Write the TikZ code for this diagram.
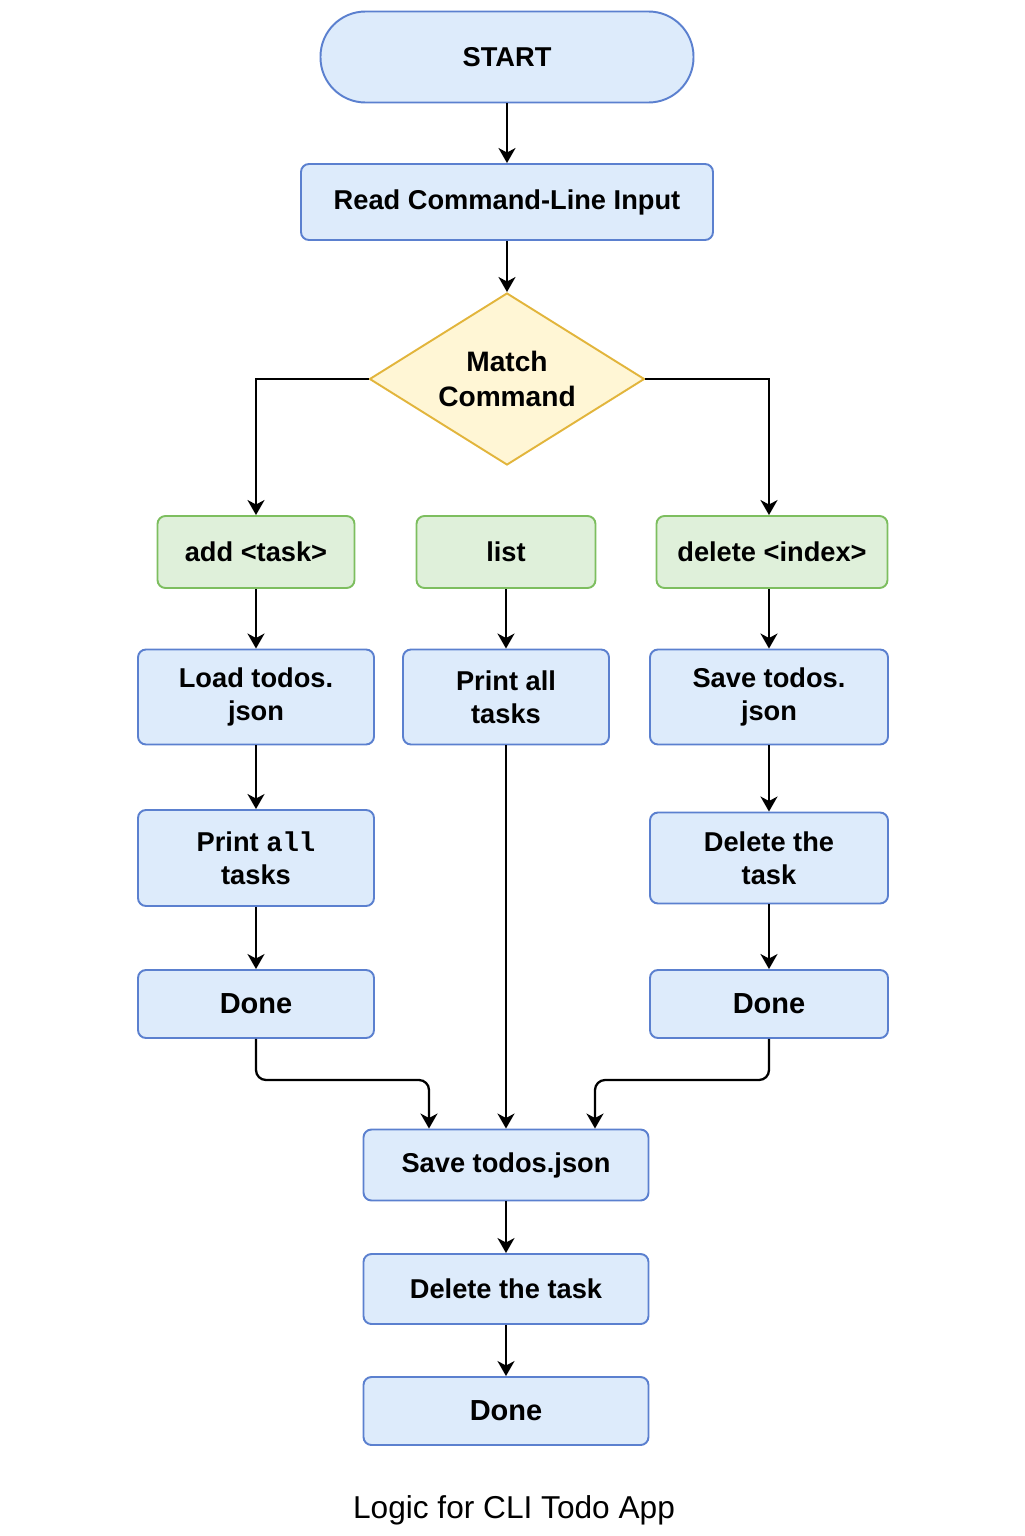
\documentclass[tikz,border=0pt]{standalone}
\usepackage{fontspec}
\setmainfont{Liberation Sans}
\setmonofont{Liberation Mono}
\usetikzlibrary{positioning,shapes.geometric,arrows.meta}
\definecolor{boxblue}{HTML}{DDEBFB}
\definecolor{edgeblue}{HTML}{5B80CF}
\definecolor{boxgreen}{HTML}{DFF0DA}
\definecolor{edgegreen}{HTML}{7DBE5F}
\definecolor{boxyellow}{HTML}{FFF6D5}
\definecolor{edgeyellow}{HTML}{E2B53C}
\tikzstyle{block} = [rectangle, draw=edgeblue, fill=boxblue, line width=1.1pt, text centered, align=center, rounded corners=1.6mm, font=\fontsize{15.5}{18.8}\selectfont\bfseries]
\tikzstyle{cmd} = [block, draw=edgegreen, fill=boxgreen, minimum height=14.4mm]
\tikzstyle{decision} = [diamond, draw=edgeyellow, fill=boxyellow, line width=1.1pt, aspect=1.6, inner sep=0pt, align=center, minimum width=55mm, minimum height=34.4mm, font=\fontsize{16}{19.5}\selectfont\bfseries]
\tikzstyle{line} = [draw, line width=1.3pt, -{Stealth[length=3mm,width=3.4mm,inset=0.9mm]}]

\begin{document}
\begin{tikzpicture}[x=0.2mm, y=-0.2mm]
	\useasboundingbox (0,0) rectangle (1024,1536);
	\node [block, rounded corners=9mm, minimum width=74.6mm, minimum height=18.2mm] (start) at (507,57) {START};
	\node [block, minimum width=82.4mm, minimum height=15.2mm] (read) at (507,202) {Read Command-Line Input};
	\node [decision] (match) at (507,379) {Match\\Command};
	
	\node [cmd, minimum width=39.4mm] (add) at (256,552) {add <task>};
	\node [cmd, minimum width=35.8mm] (list) at (506,552) {list};
	\node [cmd, minimum width=46.2mm] (delete) at (772,552) {delete <index>};
	
	\node [block, minimum width=47.2mm, minimum height=19mm] (load) at (256,697) {Load todos.\\json};
	\node [block, minimum width=41.2mm, minimum height=19mm] (printmid) at (506,697) {Print all\\tasks};
	\node [block, minimum width=47.6mm, minimum height=19mm] (saveR) at (769,697) {Save todos.\\json};
	
	\node [block, minimum width=47.2mm, minimum height=19.2mm] (printL) at (256,858) {Print \texttt{all}\\tasks};
	\node [block, minimum width=47.6mm, minimum height=18.2mm] (delR) at (769,858) {Delete the\\task};
	
	\node [block, minimum width=47.2mm, minimum height=13.6mm, font=\fontsize{16.5}{19}\selectfont\bfseries] (doneL) at (256,1004) {Done};
	\node [block, minimum width=47.6mm, minimum height=13.6mm, font=\fontsize{16.5}{19}\selectfont\bfseries] (doneR) at (769,1004) {Done};
	
	\node [block, minimum width=57mm, minimum height=14.2mm] (save) at (506,1165) {Save todos.json};
	\node [block, minimum width=57mm, minimum height=14mm] (deltask) at (506,1289) {Delete the task};
	\node [block, minimum width=57mm, minimum height=13.6mm, font=\fontsize{16.5}{19}\selectfont\bfseries] (done) at (506,1411) {Done};
	
	\node [font=\fontsize{18}{20}\selectfont] (caption) at (514,1510) {Logic for CLI Todo App};
	
	\coordinate (joinL) at (429,1080);
	\coordinate (joinR) at (595,1080);
	
	\path[line] (start) -- (read);
	\path[line] (read) -- (match);
	\path[line] (match.west) -| (add.north);
	\path[line] (match.east) -| (delete.north -| saveR);
	\path[line] (add) -- (load);
	\path[line] (list) -- (printmid);
	\path[line] (delete.south -| saveR) -- (saveR);
	\path[line] (load) -- (printL);
	\path[line] (printL) -- (doneL);
	\path[line] (saveR) -- (delR);
	\path[line] (delR) -- (doneR);
	\path[line] (printmid) -- (save);
	\path[line, rounded corners=2mm] (doneL.south) |- (joinL) -- (joinL |- save.north);
	\path[line, rounded corners=2mm] (doneR.south) |- (joinR) -- (joinR |- save.north);
	\path[line] (save) -- (deltask);
	\path[line] (deltask) -- (done);
\end{tikzpicture}
\end{document}
